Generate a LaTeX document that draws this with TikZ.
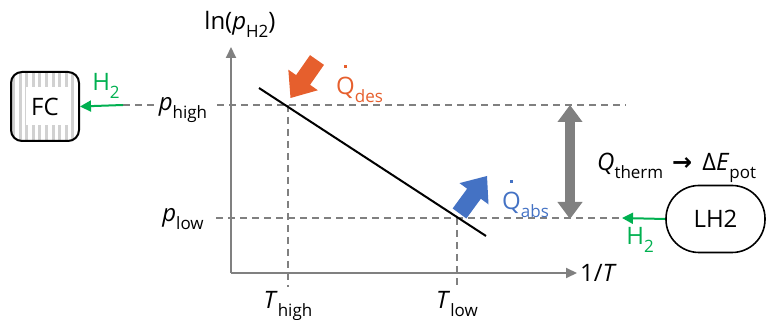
\documentclass[tikz,border=0pt]{standalone}
\usepackage{fontspec}
\setmainfont{Open Sans}
\newfontfamily\symfont{DejaVu Sans}
\usetikzlibrary{arrows.meta,calc}
\definecolor{axgray}{RGB}{128,128,128}
\definecolor{qorange}{RGB}{230,95,45}
\definecolor{qblue}{RGB}{68,114,196}
\definecolor{hgreen}{RGB}{0,176,80}
\newcommand\lsub[1]{\raisebox{-0.3em}{\fontsize{17}{17}\selectfont #1}}
\newcommand\qdot{\makebox[0pt][l]{\hspace{8pt}\rule[27pt]{3pt}{3pt}}Q}
% fat block arrow: #1 tail, #2 tip, #3 colour
\newcommand\fatarr[3]{%
  \coordinate (fab) at ($(#2)!22pt!(#1)$);
  \fill[#3] ($(#1)!8.5pt!90:(#2)$) -- ($(fab)!8.5pt!-90:(#1)$) -- ($(fab)!18pt!-90:(#1)$)
    -- (#2) -- ($(fab)!18pt!90:(#1)$) -- ($(fab)!8.5pt!90:(#1)$) -- ($(#1)!8.5pt!-90:(#2)$) -- cycle;
}
\tikzset{
  lbl/.style={font=\fontsize{24}{26}\selectfont, inner sep=0pt},
  axis/.style={draw=axgray, line width=2pt, -{Triangle[length=11pt,width=10pt]}},
  guide/.style={draw=axgray, line width=1.5pt, dash pattern=on 7pt off 5pt},
  h2arrow/.style={draw=hgreen, line width=2pt, -{Triangle[length=11pt,width=11pt]}},
}
\begin{document}
\begin{tikzpicture}[x=1pt,y=-1pt]
\useasboundingbox (0,0) rectangle (766,320);
% axes
\coordinate (O) at (231,273);
\coordinate (ytip) at (231,47);
\coordinate (xtip) at (577,273);
\draw[axis] (O) -- (ytip);
\draw[axis] (O) -- (xtip);
\node[lbl, anchor=base] (ylab) at (240,30) {ln(\textit{p}\lsub{H2})};
\node[lbl, anchor=base west] (xlab) at (580,282) {1/\textit{T}};
% pressure and temperature labels
\node[lbl, anchor=base] (phigh) at (183,111) {\textit{p}\lsub{high}};
\node[lbl, anchor=base] (plow) at (183,222) {\textit{p}\lsub{low}};
\node[lbl, anchor=base] (thigh) at (288,309) {\textit{T}\lsub{high}};
\node[lbl, anchor=base] (tlow) at (457,309) {\textit{T}\lsub{low}};
% guides
\coordinate (hstart) at (123,105);
\coordinate (hend) at (626,105);
\coordinate (lstart) at (216,218);
\coordinate (lend) at (622,218);
\draw[guide] (hstart) -- (155,105);
\draw[guide] (217,105) -- (hend);
\draw[guide] (lstart) -- (lend);
\coordinate (th1) at (288,105);
\coordinate (th2) at (288,287);
\coordinate (tl1) at (457,218);
\coordinate (tl2) at (457,287);
\draw[guide] (th1) -- (th2);
\draw[guide] (tl1) -- (tl2);
% line
\coordinate (l1) at (259,88);
\coordinate (l2) at (486,236);
\draw[line width=2pt] (l1) -- (l2);
% heat arrows
\coordinate (des1) at (317,60);
\coordinate (des2) at (290.5,98);
\fatarr{des1}{des2}{qorange}
\node[lbl, text=qorange, anchor=base west] (qdes) at (336,95) {\qdot\lsub{des}};
\coordinate (abs1) at (459.5,213.5);
\coordinate (abs2) at (487,176);
\fatarr{abs1}{abs2}{qblue}
\node[lbl, text=qblue, anchor=base west] (qabs) at (502,210) {\qdot\lsub{abs}};
% gray double arrow
\coordinate (d1) at (570,105);
\coordinate (d2) at (570,219);
\draw[draw=axgray, line width=10pt, {Triangle[length=17pt,width=24pt]}-{Triangle[length=17pt,width=24pt]}] (d1) -- (d2);
\node[lbl, anchor=base west] (qtherm) at (597,171) {\textit{Q}\lsub{therm}\hspace{9pt}{\symfont\bfseries →}\hspace{10pt}Δ\textit{E}\lsub{pot}};
% LH2
\node[lbl, draw, line width=1.6pt, rounded corners=33pt, minimum width=99pt, minimum height=67pt] (lh2) at (715.5,219) {LH2};
\draw[h2arrow] (lh2.west) -- (lend);
\node[lbl, text=hgreen] (h2b) at (640,240) {H\lsub{2}};
% FC
\begin{scope}
\clip[rounded corners=11pt] (11,72) rectangle (79,141);
\fill[white] (11,72) rectangle (79,141);
\foreach \i in {0,...,10} {
  \fill[black!18] (12+\i*6.6,72) rectangle (15+\i*6.6,141);
}
\fill[white] (26,87) rectangle (70,125);
\end{scope}
\node[draw, line width=2pt, rounded corners=11pt, minimum width=68pt, minimum height=69pt, inner sep=0pt] (fc) at (45,106.5) {};
\node[lbl] (fct) at (fc.center) {FC};
\draw[h2arrow] (hstart) -- (fc.east);
\node[lbl, text=hgreen] (h2a) at (106,86) {H\lsub{2}};
\end{tikzpicture}
\end{document}
